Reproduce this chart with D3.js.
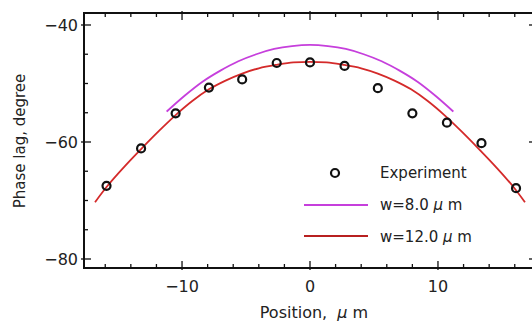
<!DOCTYPE html>
<html><head><meta charset="utf-8">
<script src="https://cdn.jsdelivr.net/npm/d3@7"></script>
<style>html,body{margin:0;padding:0;background:#fff;overflow:hidden}</style>
</head><body>
<svg id="chart" width="532" height="322"></svg>
<script>
// ---- data ----
const expX = [-15.9, -13.2, -10.5, -7.9, -5.3, -2.6, 0, 2.7, 5.3, 8.0, 10.7, 13.4, 16.1];
const expY = [-67.5, -61.1, -55.1, -50.7, -49.3, -46.5, -46.4, -47.0, -50.8, -55.1, -56.7, -60.2, -67.9];

const w12X = [-16.8, -15.9, -14.5, -13.2, -11.8, -10.5, -9.2, -7.9, -6.6, -5.3, -4, -2.6, -1.3, 0, 1.3, 2.6, 4, 5.3, 6.6, 7.9, 9.2, 10.5, 11.8, 13.2, 14.5, 15.9, 16.8];
const w12Y = [-70.3, -67.7, -64.2, -61.2, -58.1, -55.4, -53.0, -51.0, -49.5, -48.3, -47.4, -46.8, -46.4, -46.3, -46.4, -46.8, -47.4, -48.3, -49.5, -51.0, -53.0, -55.4, -58.1, -61.2, -64.2, -67.7, -70.3];

const w8X = [-11.2, -9.8, -8.4, -7, -5.6, -4.2, -2.8, -1.4, 0, 1.4, 2.8, 4.2, 5.6, 7, 8.4, 9.8, 11.2];
const w8Y = [-54.8, -52.1, -49.7, -47.8, -46.2, -45.0, -44.1, -43.6, -43.4, -43.6, -44.1, -45.0, -46.2, -47.8, -49.7, -52.1, -54.8];

const xMajorTicks = [-10, 0, 10];
const xTickLabels = ["\u221210", "0", "10"];
const yMajorTicks = [-40, -60, -80];
const yTickLabels = ["\u221240", "\u221260", "\u221280"];
const legendLabels = ["Experiment", "w=8.0", "w=12.0"];

// ---- layout ----
const svg = d3.select("#chart");
const L = 84, R = 536, T = 13, B = 268;
const x = d3.scaleLinear().domain([-17.66, 17.66]).range([L, R]);
const y = d3.scaleLinear().domain([-81.54, -37.95]).range([B, T]);
const font = "'DejaVu Sans', Arial, sans-serif";
const red = "#d42a2a", mag = "#c63fdc";

// curves
const line = d3.line().x(d => x(d[0])).y(d => y(d[1])).curve(d3.curveMonotoneX);
svg.append("path").datum(d3.zip(w8X, w8Y)).attr("d", line)
  .attr("fill", "none").attr("stroke", mag).attr("stroke-width", 1.8);
svg.append("path").datum(d3.zip(w12X, w12Y)).attr("d", line)
  .attr("fill", "none").attr("stroke", red).attr("stroke-width", 1.8);

// experiment points
svg.append("g").selectAll("circle").data(d3.zip(expX, expY)).join("circle")
  .attr("cx", d => x(d[0])).attr("cy", d => y(d[1])).attr("r", 4)
  .attr("fill", "none").attr("stroke", "#111").attr("stroke-width", 2.2);

// frame
svg.append("rect").attr("x", L).attr("y", T).attr("width", R - L).attr("height", B - T)
  .attr("fill", "none").attr("stroke", "#111").attr("stroke-width", 2);

// ticks
const tk = svg.append("g").attr("stroke", "#111").attr("stroke-width", 1.3);
const xMinor = d3.range(-16, 17, 2).filter(v => !xMajorTicks.includes(v));
xMinor.forEach(v => {
  tk.append("line").attr("x1", x(v)).attr("x2", x(v)).attr("y1", B).attr("y2", B - 4);
  tk.append("line").attr("x1", x(v)).attr("x2", x(v)).attr("y1", T).attr("y2", T + 4);
});
xMajorTicks.forEach(v => {
  tk.append("line").attr("x1", x(v)).attr("x2", x(v)).attr("y1", B + 2).attr("y2", B - 7);
  tk.append("line").attr("x1", x(v)).attr("x2", x(v)).attr("y1", T - 2).attr("y2", T + 7);
});
const yMinor = d3.range(-80, -39, 5).filter(v => !yMajorTicks.includes(v));
yMinor.forEach(v => {
  tk.append("line").attr("x1", L).attr("x2", L + 4).attr("y1", y(v)).attr("y2", y(v));
  tk.append("line").attr("x1", R).attr("x2", R - 4).attr("y1", y(v)).attr("y2", y(v));
});
yMajorTicks.forEach(v => {
  tk.append("line").attr("x1", L - 3).attr("x2", L + 7).attr("y1", y(v)).attr("y2", y(v));
  tk.append("line").attr("x1", R + 3).attr("x2", R - 7).attr("y1", y(v)).attr("y2", y(v));
});

// tick labels
svg.append("g").selectAll("text").data(xMajorTicks).join("text")
  .attr("x", d => x(d)).attr("y", B + 24).attr("text-anchor", "middle")
  .attr("font-family", font).attr("font-size", 16).attr("fill", "#222")
  .text((d, i) => xTickLabels[i]);
svg.append("g").selectAll("text").data(yMajorTicks).join("text")
  .attr("x", L - 6).attr("y", d => y(d) + 6).attr("text-anchor", "end")
  .attr("font-family", font).attr("font-size", 16).attr("fill", "#222")
  .text((d, i) => yTickLabels[i]);

// axis titles
const xt = svg.append("text").attr("x", 314).attr("y", 318).attr("text-anchor", "middle")
  .attr("font-family", font).attr("font-size", 16).attr("fill", "#222")
  .attr("xml:space", "preserve").style("white-space", "pre");
xt.append("tspan").text("Position,  ");
xt.append("tspan").attr("font-style", "italic").text("\u03bc");
xt.append("tspan").text(" m");

svg.append("text").attr("transform", "translate(25,141) rotate(-90)")
  .attr("text-anchor", "middle").attr("font-family", font).attr("font-size", 15).attr("fill", "#222")
  .text("Phase lag, degree");

// legend
const lg = svg.append("g");
lg.append("circle").attr("cx", 335).attr("cy", 173).attr("r", 4)
  .attr("fill", "none").attr("stroke", "#111").attr("stroke-width", 2.2);
lg.append("line").attr("x1", 304).attr("x2", 368).attr("y1", 205).attr("y2", 205)
  .attr("stroke", mag).attr("stroke-width", 1.8);
lg.append("line").attr("x1", 304).attr("x2", 368).attr("y1", 236).attr("y2", 236)
  .attr("stroke", "#b82020").attr("stroke-width", 1.8);
const ly = [178, 210, 242];
legendLabels.forEach((t, i) => {
  const tx = lg.append("text").attr("x", 380).attr("y", ly[i])
    .attr("font-family", font).attr("font-size", 15).attr("fill", "#222")
    .attr("xml:space", "preserve").style("white-space", "pre");
  tx.append("tspan").text(t);
  if (i > 0) {
    tx.append("tspan").attr("font-style", "italic").text(" \u03bc");
    tx.append("tspan").text(" m");
  }
});
</script>
</body></html>
